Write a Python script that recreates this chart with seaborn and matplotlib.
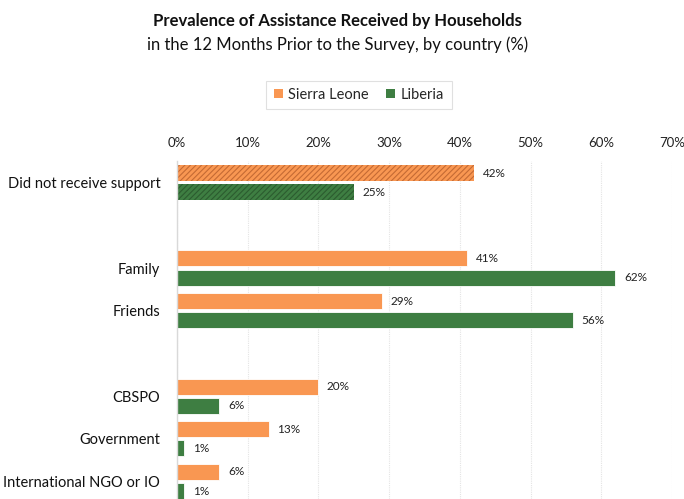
import matplotlib
matplotlib.use("Agg")
import matplotlib.pyplot as plt
from matplotlib.patches import Patch
import seaborn as sns
import pandas as pd

# Support sources (blank entries separate the groups on the axis)
categories = ["Did not receive support", " ", "Family", "Friends", "  ",
              "CBSPO", "Government", "International NGO or IO"]
sources = ["Did not receive support", "Family", "Friends",
           "CBSPO", "Government", "International NGO or IO"]
sierra_leone = [42, 41, 29, 20, 13, 6]
liberia = [25, 62, 56, 6, 1, 1]
countries = ["Sierra Leone", "Liberia"]
colors = {"Sierra Leone": "#F99752", "Liberia": "#3E7E42"}
hatch_edges = {"Sierra Leone": "#C46A34", "Liberia": "#2C5C2F"}
x_ticks = [0, 10, 20, 30, 40, 50, 60, 70]

df = pd.DataFrame({
    "source": sources * 2,
    "country": ["Sierra Leone"] * len(sources) + ["Liberia"] * len(sources),
    "value": sierra_leone + liberia,
})

sns.set_theme(style="white")
plt.rcParams["font.family"] = ["Lato", "DejaVu Sans"]
plt.rcParams["hatch.linewidth"] = 0.8

fig = plt.figure(figsize=(6.84, 4.99), dpi=100)
ax = fig.add_axes([0.2588, 0.0, 0.7237, 0.6768])

sns.barplot(data=df, y="source", x="value", hue="country", order=categories,
            hue_order=countries, palette=colors, saturation=1, width=0.894,
            gap=0.159, orient="h", legend=False, ax=ax, linewidth=0.6,
            edgecolor="white")

for bar in ax.patches:
    w = bar.get_width()
    if w <= 0:
        continue
    yc = bar.get_y() + bar.get_height() / 2
    face = bar.get_facecolor()
    country = "Sierra Leone" if face[0] > 0.5 else "Liberia"
    if round(yc) == 0:
        bar.set_hatch("//////")
        bar.set_edgecolor(hatch_edges[country])
        bar.set_linewidth(0)
    ax.text(w + 1.2, yc, f"{round(w)}%", va="center", ha="left",
            fontsize=8.5, color="#222222")

ax.set_xlim(0, 70)
ax.set_ylim(7.41, -0.5)
ax.set_xticks(x_ticks)
ax.set_xticklabels([f"{t}%" for t in x_ticks])
ax.xaxis.tick_top()
ax.tick_params(axis="x", length=0, pad=9, labelsize=9.5, colors="#222222")
ax.tick_params(axis="y", length=0, pad=12, labelsize=10.5, colors="#111111")
ax.set_xlabel("")
ax.set_ylabel("")
ax.grid(axis="x", color="#e4e4e4", linewidth=0.8, linestyle=(0, (1, 1)))
ax.set_axisbelow(True)
for side in ["top", "right", "bottom"]:
    ax.spines[side].set_visible(False)
ax.spines["left"].set_color("#d9d9d9")
ax.spines["left"].set_linewidth(1.0)

fig.text(0.494, 0.958, "Prevalence of Assistance Received by Households",
         ha="center", va="center", fontsize=12, fontweight="bold", color="#111111")
fig.text(0.494, 0.910, "in the 12 Months Prior to the Survey, by country (%)",
         ha="center", va="center", fontsize=12, color="#111111")

handles = [Patch(facecolor=colors[c], edgecolor="none", label=c) for c in countries]
leg = fig.legend(handles=handles, loc="center", bbox_to_anchor=(0.525, 0.81),
                 ncol=2, frameon=True, fontsize=10.5, handlelength=0.6,
                 handleheight=0.6, handletextpad=0.4, columnspacing=1.2,
                 borderpad=0.5, fancybox=False)
leg.get_frame().set_edgecolor("#d9d9d9")
leg.get_frame().set_linewidth(0.8)

fig.savefig("out.png", dpi=100)
